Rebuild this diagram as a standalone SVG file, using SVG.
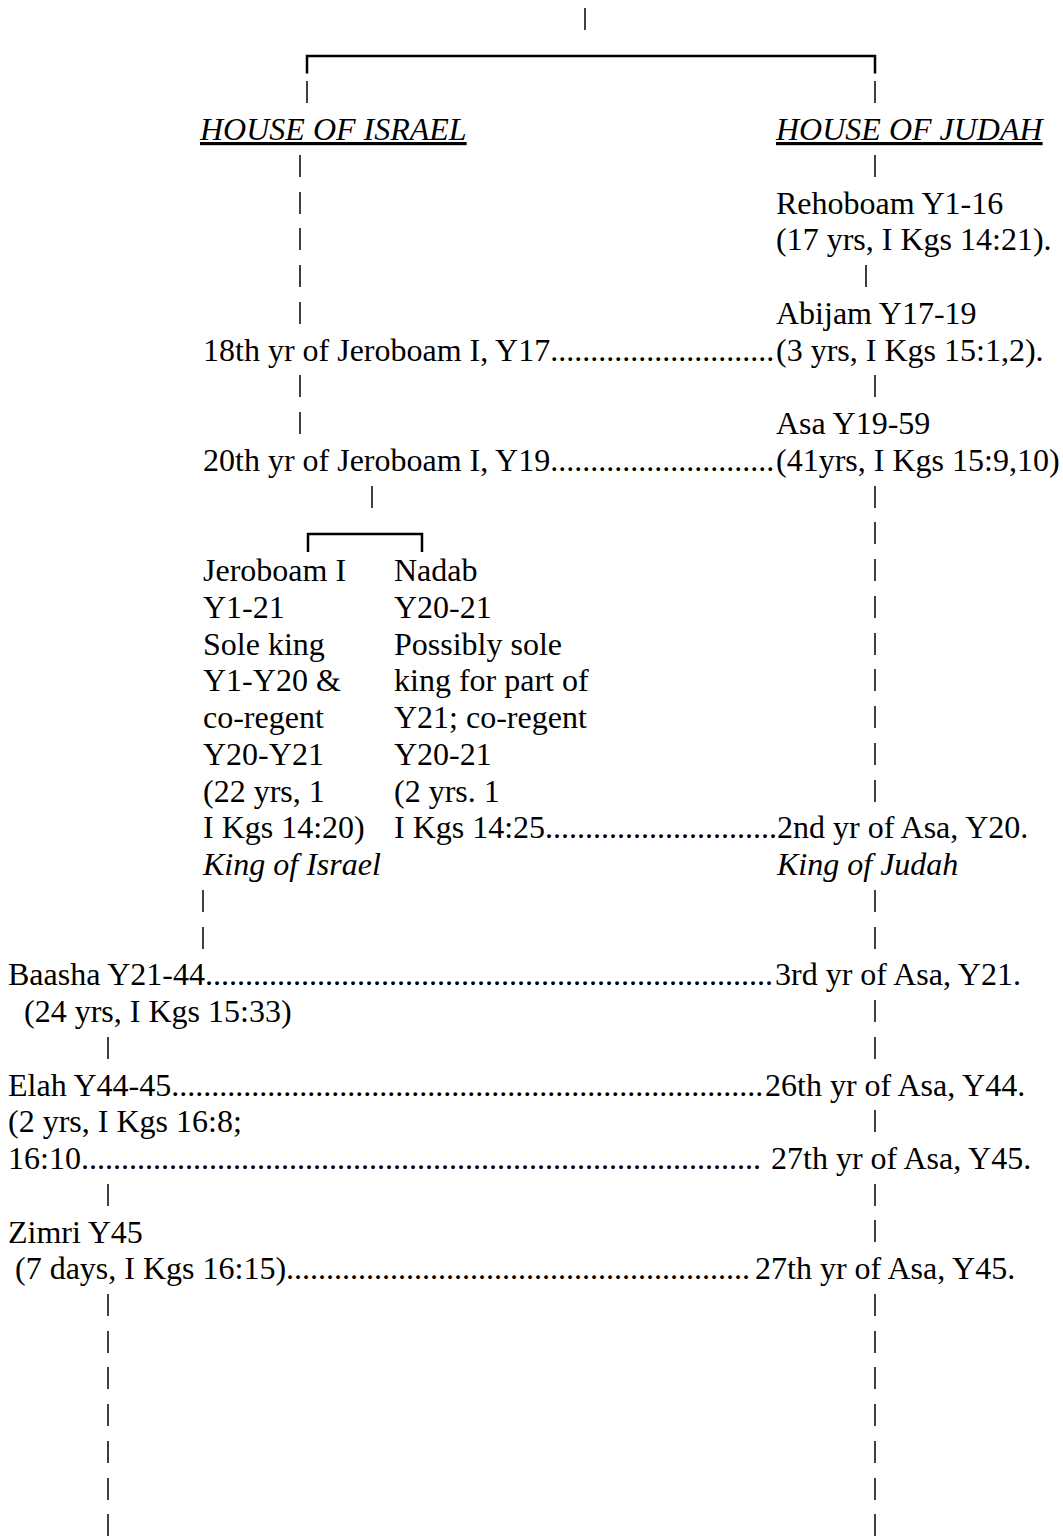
<svg xmlns="http://www.w3.org/2000/svg" width="1063" height="1536" viewBox="0 0 1063 1536">
<style>
text{font-family:"Liberation Serif","Times New Roman",serif;font-size:32px;fill:#000}
.it{font-style:italic}
.hd{font-style:italic;text-decoration:underline}
.bar{stroke:#000;stroke-width:1.5;fill:none}
.br{stroke:#000;stroke-width:2.5;fill:none}
</style>
<rect width="1063" height="1536" fill="#fff"/>
<g id="connectors">
<line class="bar" x1="585" y1="8" x2="585" y2="30"/>
<path class="br" d="M307,73.5 V56 H875 V73.5"/>
<line class="bar" x1="307" y1="81" x2="307" y2="103"/>
<line class="bar" x1="875" y1="81" x2="875" y2="103"/>
<line class="bar" x1="300" y1="155" x2="300" y2="177"/>
<line class="bar" x1="875" y1="155" x2="875" y2="177"/>
<line class="bar" x1="300" y1="192" x2="300" y2="214"/>
<line class="bar" x1="300" y1="228" x2="300" y2="250"/>
<line class="bar" x1="300" y1="265" x2="300" y2="287"/>
<line class="bar" x1="866" y1="265" x2="866" y2="287"/>
<line class="bar" x1="300" y1="302" x2="300" y2="324"/>
<line class="bar" x1="300" y1="375" x2="300" y2="397"/>
<line class="bar" x1="875" y1="375" x2="875" y2="397"/>
<line class="bar" x1="300" y1="412" x2="300" y2="434"/>
<line class="bar" x1="372" y1="486" x2="372" y2="508"/>
<line class="bar" x1="875" y1="486" x2="875" y2="508"/>
<path class="br" d="M308,552 V534 H422 V552"/>
<line class="bar" x1="875" y1="522" x2="875" y2="544"/>
<line class="bar" x1="875" y1="559" x2="875" y2="581"/>
<line class="bar" x1="875" y1="596" x2="875" y2="618"/>
<line class="bar" x1="875" y1="633" x2="875" y2="655"/>
<line class="bar" x1="875" y1="669" x2="875" y2="691"/>
<line class="bar" x1="875" y1="706" x2="875" y2="728"/>
<line class="bar" x1="875" y1="743" x2="875" y2="765"/>
<line class="bar" x1="875" y1="780" x2="875" y2="802"/>
<line class="bar" x1="203" y1="890" x2="203" y2="912"/>
<line class="bar" x1="875" y1="890" x2="875" y2="912"/>
<line class="bar" x1="203" y1="927" x2="203" y2="949"/>
<line class="bar" x1="875" y1="927" x2="875" y2="949"/>
<line class="bar" x1="875" y1="1000" x2="875" y2="1022"/>
<line class="bar" x1="108" y1="1037" x2="108" y2="1059"/>
<line class="bar" x1="875" y1="1037" x2="875" y2="1059"/>
<line class="bar" x1="875" y1="1110" x2="875" y2="1132"/>
<line class="bar" x1="108" y1="1184" x2="108" y2="1206"/>
<line class="bar" x1="875" y1="1184" x2="875" y2="1206"/>
<line class="bar" x1="875" y1="1220" x2="875" y2="1242"/>
<line class="bar" x1="108" y1="1294" x2="108" y2="1316"/>
<line class="bar" x1="875" y1="1294" x2="875" y2="1316"/>
<line class="bar" x1="108" y1="1331" x2="108" y2="1353"/>
<line class="bar" x1="875" y1="1331" x2="875" y2="1353"/>
<line class="bar" x1="108" y1="1367" x2="108" y2="1389"/>
<line class="bar" x1="875" y1="1367" x2="875" y2="1389"/>
<line class="bar" x1="108" y1="1404" x2="108" y2="1426"/>
<line class="bar" x1="875" y1="1404" x2="875" y2="1426"/>
<line class="bar" x1="108" y1="1441" x2="108" y2="1463"/>
<line class="bar" x1="875" y1="1441" x2="875" y2="1463"/>
<line class="bar" x1="108" y1="1478" x2="108" y2="1500"/>
<line class="bar" x1="875" y1="1478" x2="875" y2="1500"/>
<line class="bar" x1="108" y1="1514" x2="108" y2="1536"/>
<line class="bar" x1="875" y1="1514" x2="875" y2="1536"/>
</g>
<g id="house-israel"><text class="hd" x="200" y="140">HOUSE OF ISRAEL</text></g>
<g id="house-judah"><text class="hd" x="776" y="140">HOUSE OF JUDAH</text></g>
<g id="rehoboam"><text x="776" y="213.5">Rehoboam Y1-16<tspan x="776" dy="36.75">(17 yrs, I Kgs 14:21).</tspan></text></g>
<g id="abijam"><text x="776" y="323.75">Abijam Y17-19<tspan x="776" dy="36.75">(3 yrs, I Kgs 15:1,2).</tspan></text></g>
<g id="sync-jeroboam-18"><text x="203" y="360.5">18th yr of Jeroboam I, Y17............................</text></g>
<g id="asa"><text x="776" y="434">Asa Y19-59<tspan x="776" dy="36.75">(41yrs, I Kgs 15:9,10)</tspan></text></g>
<g id="sync-jeroboam-20"><text x="203" y="470.75">20th yr of Jeroboam I, Y19............................</text></g>
<g id="jeroboam"><text x="203" y="581">Jeroboam I<tspan x="203" dy="36.75">Y1-21</tspan><tspan x="203" dy="36.75">Sole king</tspan><tspan x="203" dy="36.75">Y1-Y20 &amp;</tspan><tspan x="203" dy="36.75">co-regent</tspan><tspan x="203" dy="36.75">Y20-Y21</tspan><tspan x="203" dy="36.75">(22 yrs, 1</tspan><tspan x="203" dy="36.75">I Kgs 14:20)</tspan><tspan x="203" dy="36.75" class="it">King of Israel</tspan></text></g>
<g id="nadab"><text x="394" y="581">Nadab<tspan x="394" dy="36.75">Y20-21</tspan><tspan x="394" dy="36.75">Possibly sole</tspan><tspan x="394" dy="36.75">king for part of</tspan><tspan x="394" dy="36.75">Y21; co-regent</tspan><tspan x="394" dy="36.75">Y20-21</tspan><tspan x="394" dy="36.75">(2 yrs. 1</tspan><tspan x="394" dy="36.75">I Kgs 14:25.............................</tspan></text></g>
<g id="sync-asa-2"><text x="777" y="838.25">2nd yr of Asa, Y20.<tspan x="777" dy="36.75" class="it">King of Judah</tspan></text></g>
<g id="baasha"><text x="8" y="985.25">Baasha Y21-44.......................................................................<tspan x="24" dy="36.75">(24 yrs, I Kgs 15:33)</tspan></text></g>
<g id="sync-asa-3"><text x="775" y="985.25">3rd yr of Asa, Y21.</text></g>
<g id="elah"><text x="8" y="1095.5">Elah Y44-45..........................................................................<tspan x="8" dy="36.75">(2 yrs, I Kgs 16:8;</tspan><tspan x="8" dy="36.75">16:10.....................................................................................</tspan></text></g>
<g id="sync-asa-26"><text x="765" y="1095.5">26th yr of Asa, Y44.</text></g>
<g id="sync-asa-27a"><text x="771" y="1169">27th yr of Asa, Y45.</text></g>
<g id="zimri"><text x="8" y="1242.5">Zimri Y45<tspan x="15" dy="36.75">(7 days, I Kgs 16:15)..........................................................</tspan></text></g>
<g id="sync-asa-27b"><text x="755" y="1279.25">27th yr of Asa, Y45.</text></g>
</svg>
